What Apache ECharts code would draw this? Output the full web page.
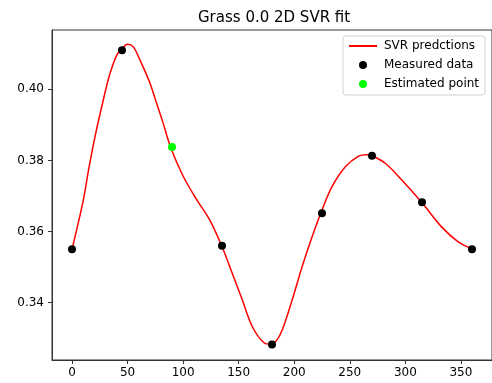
<!DOCTYPE html>
<html>
<head>
<meta charset="utf-8">
<script src="https://cdn.jsdelivr.net/npm/echarts@6/dist/echarts.min.js"></script>
<style>
  html, body { margin: 0; padding: 0; background: #fff; }
  #chart { width: 492px; height: 383px; }
</style>
</head>
<body>
<div id="chart"></div>
<script>
// SVR prediction curve
const svrX = [0, 9.9, 15.2, 21, 27.8, 33.8, 40.3, 45, 50.2, 55, 60.5, 69.7, 75.7, 81.6, 89.1, 99.5,
  111.5, 124, 134.8, 144.3, 153.3, 162.3, 172.8, 178.8, 184, 189.2, 198.1, 207.1, 216.1, 224.5,
  234, 246, 257.9, 265, 270, 281.9, 296.8, 314.7, 332.6, 347.6, 360]
const svrY = [0.355, 0.3684, 0.3778, 0.3871, 0.3965, 0.404, 0.4096, 0.4115, 0.4127, 0.412, 0.4087,
  0.4021, 0.3965, 0.3909, 0.3834, 0.3759, 0.3693, 0.3632, 0.3559, 0.3482, 0.3407, 0.3332, 0.3287,
  0.3283, 0.3293, 0.3323, 0.3407, 0.3501, 0.3585, 0.3656, 0.3726, 0.3782, 0.3812, 0.3816, 0.3813,
  0.3792, 0.3745, 0.3682, 0.3613, 0.3571, 0.3552]

// measured points
const measX = [0, 45, 135, 180, 225, 270, 315, 360]
const measY = [0.355, 0.411, 0.356, 0.3282, 0.3651, 0.3813, 0.3682, 0.355]

// estimated point
const estX = [90]
const estY = [0.3838]

const xTicks = [0, 50, 100, 150, 200, 250, 300, 350]
const yTicks = [0.34, 0.36, 0.38, 0.40]

const font = "DejaVu Sans"
const zip = (xs, ys) => xs.map((x, i) => [x, ys[i]])

const chart = echarts.init(document.getElementById("chart"))

const option = {
  backgroundColor: "#fff",
  animation: false,
  title: {
    text: "Grass 0.0 2D SVR fit",
    left: 193,
    top: 6,
    textStyle: {
      fontFamily: font,
      fontSize: 15,
      fontWeight: "normal",
      color: "#000",
    },
  },
  legend: {
    orient: "vertical",
    left: 343,
    top: 36,
    padding: [3, 6, 4, 5],
    itemGap: 5,
    itemWidth: 28,
    itemHeight: 8,
    borderColor: "#d0d0d0",
    borderWidth: 1,
    borderRadius: 3,
    backgroundColor: "rgba(255,255,255,0.8)",
    textStyle: {
      fontFamily: font,
      fontSize: 12,
      color: "#000",
      lineHeight: 14,
      padding: [0, 0, 0, 2],
    },
    data: [
      { name: "SVR predctions", itemStyle: { opacity: 0 } },
      { name: "Measured data", icon: "circle" },
      { name: "Estimated point", icon: "circle" },
    ],
  },
  grid: {
    left: 52,
    top: 30,
    right: -2,
    bottom: 23,
    show: true,
    borderColor: "#333",
    borderWidth: 1,
    backgroundColor: "transparent",
  },
  xAxis: {
    type: "value",
    min: -18,
    max: 378,
    splitLine: { show: false },
    axisLine: { show: true, onZero: false, lineStyle: { color: "#333" } },
    axisTick: {
      show: true,
      length: 4,
      lineStyle: { color: "#333" },
      customValues: xTicks,
    },
    axisLabel: {
      fontFamily: font,
      fontSize: 12,
      color: "#000",
      margin: 7,
      customValues: xTicks,
    },
  },
  yAxis: {
    type: "value",
    min: 0.32385,
    max: 0.41668,
    splitLine: { show: false },
    axisLine: { show: true, onZero: false, lineStyle: { color: "#333" } },
    axisTick: {
      show: true,
      length: 4,
      lineStyle: { color: "#333" },
      customValues: yTicks,
    },
    axisLabel: {
      fontFamily: font,
      fontSize: 12,
      color: "#000",
      margin: 8,
      customValues: yTicks,
      formatter: (v) => v.toFixed(2),
    },
  },
  series: [
    {
      name: "SVR predctions",
      type: "line",
      data: zip(svrX, svrY),
      smooth: 0.35,
      showSymbol: false,
      symbol: "none",
      lineStyle: { color: "#ff0000", width: 1.5 },
      itemStyle: { color: "#ff0000" },
      z: 2,
    },
    {
      name: "Measured data",
      type: "scatter",
      data: zip(measX, measY),
      symbolSize: 8,
      itemStyle: { color: "#000", opacity: 1 },
      z: 3,
    },
    {
      name: "Estimated point",
      type: "scatter",
      data: zip(estX, estY),
      symbolSize: 8,
      itemStyle: { color: "#00ff00", opacity: 1 },
      z: 3,
    },
  ],
}

chart.setOption(option)

window.addEventListener("resize", () => chart.resize())
</script>
</body>
</html>
